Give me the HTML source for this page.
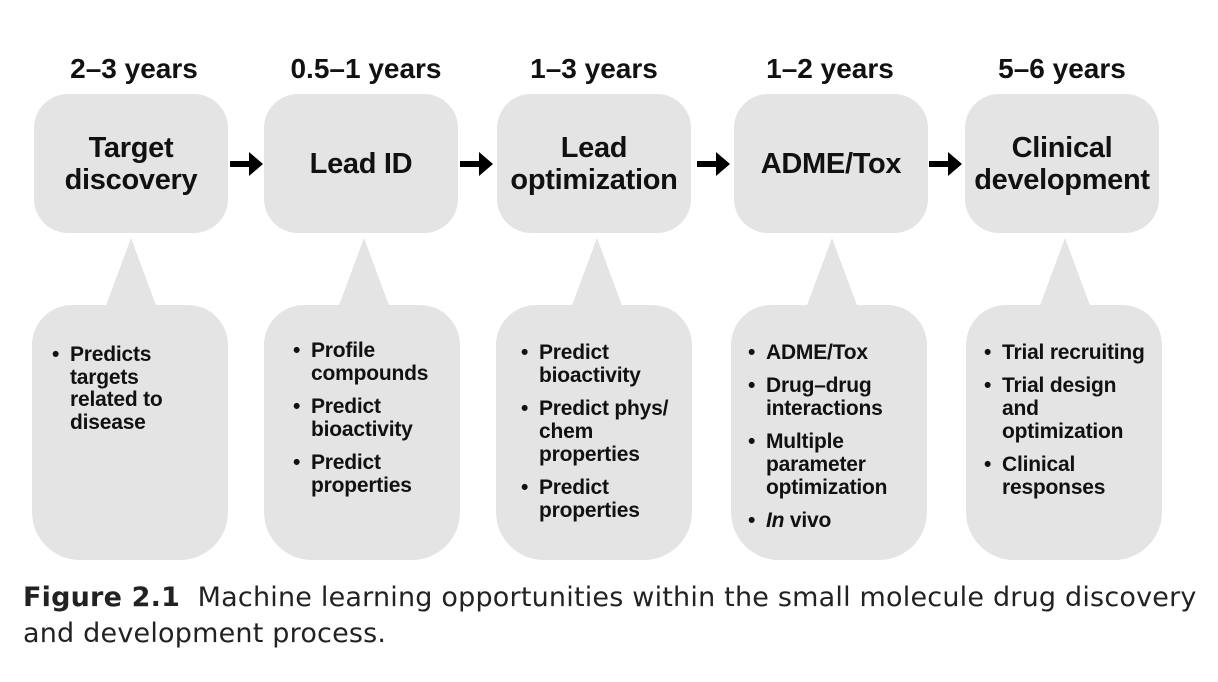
<!DOCTYPE html>
<html><head><meta charset="utf-8"><style>
body{margin:0;width:1218px;height:682px;background:#fff;position:relative;overflow:hidden;font-family:"Liberation Sans",Arial,sans-serif;color:#111}
.yr{position:absolute;top:53px;font-weight:bold;font-size:28px;text-align:center;width:240px}
.box{position:absolute;top:94px;height:139px;width:194px;background:#e4e4e4;border-radius:34px;display:flex;align-items:center;justify-content:center;text-align:center;font-weight:bold;font-size:29px;line-height:32px;letter-spacing:-0.3px}
.bot{position:absolute;top:305px;height:255px;width:196px;background:#e4e4e4;border-radius:40px 40px 48px 48px}
.tri{position:absolute;top:238px;width:0;height:0;border-left:26px solid transparent;border-right:26px solid transparent;border-bottom:70px solid #e4e4e4}
.arr{position:absolute;top:151px}
ul{position:absolute;margin:0;padding:0;list-style:none;font-weight:bold;font-size:21px;line-height:23px;letter-spacing:-0.2px}
li{position:relative;padding-left:18px;margin-bottom:10px}
li:before{content:"•";position:absolute;left:0}
.cap{position:absolute;left:23px;top:580px;font-size:27px;line-height:36px;color:#222;font-family:"DejaVu Sans","Liberation Sans",sans-serif;letter-spacing:0.2px}
</style></head><body>
<div class="yr" style="left:14px">2–3 years</div>
<div class="yr" style="left:246px">0.5–1 years</div>
<div class="yr" style="left:474px">1–3 years</div>
<div class="yr" style="left:710px">1–2 years</div>
<div class="yr" style="left:942px">5–6 years</div>

<div class="box" style="left:34px">Target<br>discovery</div>
<div class="box" style="left:264px">Lead ID</div>
<div class="box" style="left:497px">Lead<br>optimization</div>
<div class="box" style="left:734px">ADME/Tox</div>
<div class="box" style="left:965px">Clinical<br>development</div>

<svg class="arr" style="left:229px" width="36" height="26"><path d="M1 10h19v-9l14 12-14 12v-9H1z" fill="#000"/></svg>
<svg class="arr" style="left:459px" width="36" height="26"><path d="M1 10h19v-9l14 12-14 12v-9H1z" fill="#000"/></svg>
<svg class="arr" style="left:696px" width="36" height="26"><path d="M1 10h19v-9l14 12-14 12v-9H1z" fill="#000"/></svg>
<svg class="arr" style="left:928px" width="36" height="26"><path d="M1 10h19v-9l14 12-14 12v-9H1z" fill="#000"/></svg>

<div class="tri" style="left:105px"></div>
<div class="tri" style="left:338px"></div>
<div class="tri" style="left:571px"></div>
<div class="tri" style="left:806px"></div>
<div class="tri" style="left:1039px"></div>

<div class="bot" style="left:32px"></div>
<div class="bot" style="left:264px"></div>
<div class="bot" style="left:496px"></div>
<div class="bot" style="left:731px"></div>
<div class="bot" style="left:966px"></div>

<ul style="left:52px;top:344px;line-height:22.5px"><li>Predicts<br>targets<br>related to<br>disease</li></ul>
<ul style="left:293px;top:339px"><li>Profile<br>compounds</li><li>Predict<br>bioactivity</li><li>Predict<br>properties</li></ul>
<ul style="left:521px;top:341px"><li>Predict<br>bioactivity</li><li>Predict phys/<br>chem<br>properties</li><li>Predict<br>properties</li></ul>
<ul style="left:748px;top:341px"><li>ADME/Tox</li><li>Drug–drug<br>interactions</li><li>Multiple<br>parameter<br>optimization</li><li><i>In</i> vivo</li></ul>
<ul style="left:984px;top:341px"><li>Trial recruiting</li><li>Trial design<br>and<br>optimization</li><li>Clinical<br>responses</li></ul>

<div class="cap"><b>Figure 2.1</b>&nbsp; Machine learning opportunities within the small molecule drug discovery<br>and development process.</div>
</body></html>
